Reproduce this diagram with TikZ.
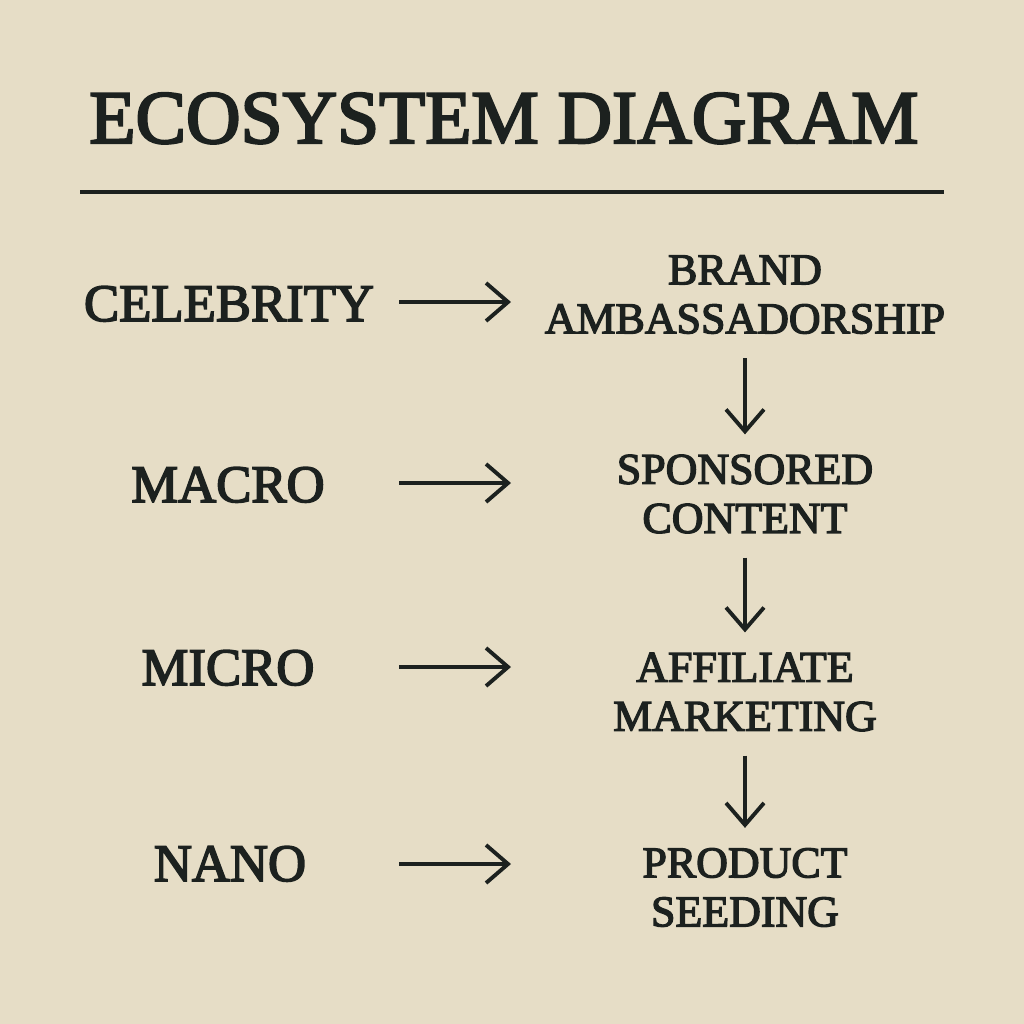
\documentclass[tikz,border=0pt]{standalone}
\usepackage{fontspec}
\setmainfont{Liberation Serif}[FakeBold=3]
\usepackage{tikz}
\usetikzlibrary{arrows.meta}

\definecolor{paper}{RGB}{230,221,198}
\definecolor{ink}{RGB}{28,33,31}

\begin{document}
\begin{tikzpicture}[x=0.2mm,y=-0.2mm,color=ink,
    headline/.style={anchor=base,inner sep=0pt,font=\fontsize{43}{48}\selectfont},
    tier/.style={anchor=base,inner sep=0pt,font=\fontsize{30}{34}\selectfont},
    tactic/.style={align=center,inner sep=0pt,font=\fontsize{25}{27.9}\selectfont},
    flow/.style={line width=2.2pt,-{Straight Barb[length=4.4mm,width=7.6mm,line width=2.2pt]}},
    down/.style={line width=1.9pt,-{Straight Barb[length=4.4mm,width=7.6mm,line width=2.2pt]},shorten <=4.8mm,shorten >=4mm}]
   \fill[paper] (0,0) rectangle (1024,1024);
   \draw (504,143) node[headline] (title) {ECOSYSTEM DIAGRAM};
   \draw[line width=2.2pt] (80,192) -- (944,192);

    \draw (229,321) node[tier] (celebrity) {CELEBRITY};
    \draw (228,502) node[tier] (macro) {MACRO};
    \draw (228,685) node[tier] (micro) {MICRO};
    \draw (230,881) node[tier] (nano) {NANO};

    \draw (745,294.5) node[tactic] (brand) {BRAND\\AMBASSADORSHIP};
    \draw (745,494) node[tactic] (sponsored) {SPONSORED\\CONTENT};
    \draw (745,692) node[tactic] (affiliate) {AFFILIATE\\MARKETING};
    \draw (745,887.5) node[tactic] (seeding) {PRODUCT\\SEEDING};

    \coordinate (celebrity-out) at (399,302);  \coordinate (brand-in) at (511,302);
    \coordinate (macro-out) at (399,483);      \coordinate (sponsored-in) at (511,483);
    \coordinate (micro-out) at (399,667);      \coordinate (affiliate-in) at (511,667);
    \coordinate (nano-out) at (399,864);       \coordinate (seeding-in) at (511,864);

        \path[flow] (celebrity-out) edge (brand-in);
        \path[flow] (macro-out) edge (sponsored-in);
        \path[flow] (micro-out) edge (affiliate-in);
        \path[flow] (nano-out) edge (seeding-in);

          \path[down] (brand) edge (sponsored);
          \path[down] (sponsored) edge (affiliate);
          \path[down] (affiliate) edge (seeding);
\end{tikzpicture}
\end{document}
